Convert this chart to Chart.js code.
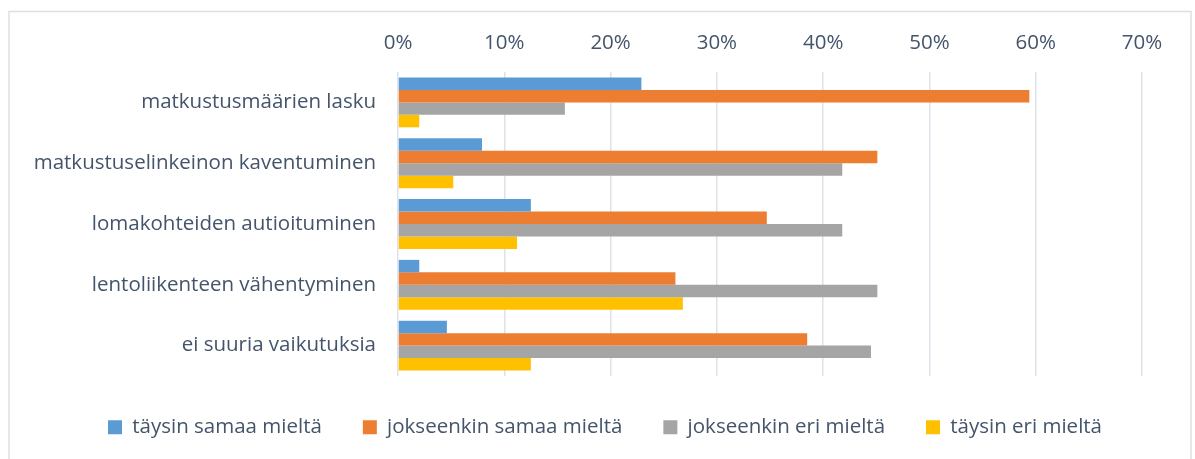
<!DOCTYPE html>
<html>
<head>
<meta charset="utf-8">
<script src="https://cdn.jsdelivr.net/npm/chart.js@4/dist/chart.umd.min.js"></script>
<style>
  html, body { margin: 0; padding: 0; background: #fff; }
  #wrap { position: relative; width: 1195px; height: 459px; }
</style>
</head>
<body>
<div id="wrap"><canvas id="c" width="1195" height="459"></canvas></div>
<script>
const categories = [
  "matkustusmäärien lasku",
  "matkustuselinkeinon kaventuminen",
  "lomakohteiden autioituminen",
  "lentoliikenteen vähentyminen",
  "ei suuria vaikutuksia"
];
const seriesNames = ["täysin samaa mieltä", "jokseenkin samaa mieltä", "jokseenkin eri mieltä", "täysin eri mieltä"];
const taysinSamaa = [22.9, 7.9, 12.5, 2.0, 4.6];
const jokseenkinSamaa = [59.4, 45.1, 34.7, 26.1, 38.5];
const jokseenkinEri = [15.7, 41.8, 41.8, 45.1, 44.5];
const taysinEri = [2.0, 5.2, 11.2, 26.8, 12.5];
const xTickMin = 0, xTickMax = 70, xTickStep = 10;

const colors = ["#5b9bd5", "#ed7d31", "#a5a5a5", "#ffc000"];
const FONT = "'Open Sans', 'DejaVu Sans', sans-serif";
const TEXT = "#44546a";

const framePlugin = {
  id: 'frame',
  afterLayout(chart) {
    if (chart.legend) {
      chart.legend.left = 15;
      chart.legend.right = 1195;
      chart.legend.width = 1180;
    }
  },
  beforeDraw(chart) {
    const ctx = chart.ctx;
    ctx.save();
    ctx.strokeStyle = '#dcdfe5';
    ctx.lineWidth = 1.5;
    ctx.strokeRect(9, 11.5, 1182, 470);
    ctx.restore();
  }
};

const values = [taysinSamaa, jokseenkinSamaa, jokseenkinEri, taysinEri];

new Chart(document.getElementById('c'), {
  type: 'bar',
  data: {
    labels: categories,
    datasets: seriesNames.map((n, i) => ({
      label: n,
      data: values[i],
      backgroundColor: colors[i],
      borderWidth: 0,
      categoryPercentage: 0.82,
      barPercentage: 1.0
    }))
  },
  options: {
    indexAxis: 'y',
    responsive: false,
    animation: false,
    devicePixelRatio: 1,
    layout: { padding: { left: 0, right: 53, top: 0, bottom: 17 } },
    plugins: {
      tooltip: { enabled: false },
      legend: {
        position: 'bottom',
        maxHeight: 66,
        labels: {
          boxWidth: 14,
          boxHeight: 14,
          padding: 41,
          color: TEXT,
          font: { family: FONT, size: 20.5 }
        }
      }
    },
    scales: {
      x: {
        position: 'top',
        min: xTickMin,
        max: xTickMax,
        ticks: {
          stepSize: xTickStep,
          padding: 17,
          color: TEXT,
          font: { family: FONT, size: 20.5 },
          callback: v => v + '%'
        },
        grid: { color: '#dde1e8', lineWidth: 1.5, drawTicks: false },
        border: { display: false },
        afterFit(scale) { scale.height = 72; }
      },
      y: {
        ticks: {
          padding: 22,
          color: TEXT,
          font: { family: FONT, size: 20.5 }
        },
        grid: { display: false, drawTicks: false },
        border: { display: false },
        afterFit(scale) { scale.width = 398; }
      }
    }
  },
  plugins: [framePlugin]
});
</script>
</body>
</html>
